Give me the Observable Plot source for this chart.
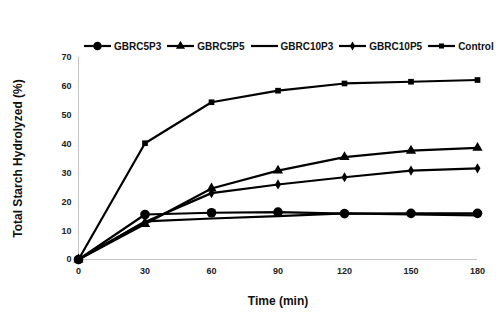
<!DOCTYPE html>
<html><head><meta charset="utf-8">
<script src="https://cdn.jsdelivr.net/npm/d3@7"></script>
<script src="https://cdn.jsdelivr.net/npm/@observablehq/plot@0.6"></script>
<style>
body{margin:0;background:#fff;font-family:"Liberation Sans",Arial,sans-serif;}
#wrap{width:500px;height:336px;position:relative;overflow:hidden;}
#legend{position:relative;height:50px;}
#legend .row{position:absolute;left:84px;top:39px;height:14px;display:flex;align-items:center;gap:6px;}
#legend .item{display:flex;align-items:center;gap:3px;font-size:10px;font-weight:bold;color:#111;}
svg{display:block;}
</style></head>
<body><div id="wrap"><div id="legend"><div class="row"></div></div><div id="chart"></div></div>
<script>
const times = [0, 30, 60, 90, 120, 150, 180];
const seriesNames = ["GBRC5P3", "GBRC5P5", "GBRC10P3", "GBRC10P5", "Control"];
const gbrc5p3  = [0, 15.6, 16.2, 16.4, 15.9, 16.0, 16.0];
const gbrc5p5  = [0, 12.3, 24.6, 30.8, 35.5, 37.7, 38.7];
const gbrc10p3 = [0, 13.2, 14.2, 15.0, 16.0, 15.6, 15.3];
const gbrc10p5 = [0, 13.0, 23.0, 26.0, 28.5, 30.8, 31.6];
const control  = [0, 40.3, 54.5, 58.5, 61.0, 61.6, 62.2];
const symbols = ["circle", "triangle", null, "diamond", "square"];
const sizes = [4.8, 3.8, 0, 3.1, 3.2];
const yTicks = [0, 10, 20, 30, 40, 50, 60, 70];

const valuesList = [gbrc5p3, gbrc5p5, gbrc10p3, gbrc10p5, control];
const data = [];
seriesNames.forEach((s, i) => times.forEach((t, j) => data.push({series: s, time: t, value: valuesList[i][j], idx: i})));

const font = "'Liberation Sans', Arial, sans-serif";
const marks = [
  Plot.ruleX([0], {y1: 0, y2: 70, stroke: "#c4c4c4", strokeWidth: 1}),
  Plot.ruleY([0], {x1: 0, x2: 180, stroke: "#c4c4c4", strokeWidth: 1}),
  Plot.axisX({ticks: times, tickSize: 0, tickPadding: 8, fontSize: 9, fontWeight: "bold", label: "Time (min)", labelAnchor: "center", labelOffset: 45, labelArrow: "none"}),
  Plot.axisY({ticks: yTicks, tickSize: 0, tickPadding: 7, fontSize: 9, fontWeight: "bold", label: "Total Starch Hydrolyzed (%)", labelAnchor: "center", labelOffset: 65, labelArrow: "none"}),
  Plot.line(data, {x: "time", y: "value", z: "series", stroke: "#000", strokeWidth: 2.2})
];
seriesNames.forEach((s, i) => {
  if (!symbols[i]) return;
  marks.push(Plot.dot(data.filter(d => d.idx === i), {x: "time", y: "value", symbol: () => symbols[i], fill: "#000", stroke: "none", r: sizes[i]}));
});

const chart = Plot.plot({
  width: 500, height: 286,
  marginLeft: 78, marginRight: 23, marginTop: 7, marginBottom: 77,
  style: {fontFamily: font, color: "#222", background: "#fff"},
  x: {domain: [0, 180]},
  y: {domain: [0, 70]},
  symbol: {type: "identity"},
  marks
});
document.getElementById("chart").appendChild(chart);
chart.querySelectorAll("g[aria-label='x-axis label'], g[aria-label='y-axis label']").forEach(g => {g.setAttribute("font-size", "12"); g.setAttribute("font-weight", "bold"); g.setAttribute("fill", "#111");});

// legend
const row = document.querySelector("#legend .row");
const symMap = {circle: d3.symbolCircle, triangle: d3.symbolTriangle, diamond: d3.symbolDiamond, square: d3.symbolSquare};
seriesNames.forEach((s, i) => {
  const item = document.createElement("div"); item.className = "item";
  const sw = d3.create("svg").attr("width", 27).attr("height", 12);
  sw.append("line").attr("x1", 0).attr("x2", 27).attr("y1", 6).attr("y2", 6).attr("stroke", "#000").attr("stroke-width", 2.2);
  if (symbols[i]) {
    sw.append("path").attr("transform", "translate(13.5,6)").attr("d", d3.symbol(symMap[symbols[i]], Math.PI * sizes[i] * sizes[i] * 0.8)()).attr("fill", "#000");
  }
  item.appendChild(sw.node());
  const tx = document.createElement("span"); tx.textContent = s; item.appendChild(tx);
  row.appendChild(item);
});
</script></body></html>
